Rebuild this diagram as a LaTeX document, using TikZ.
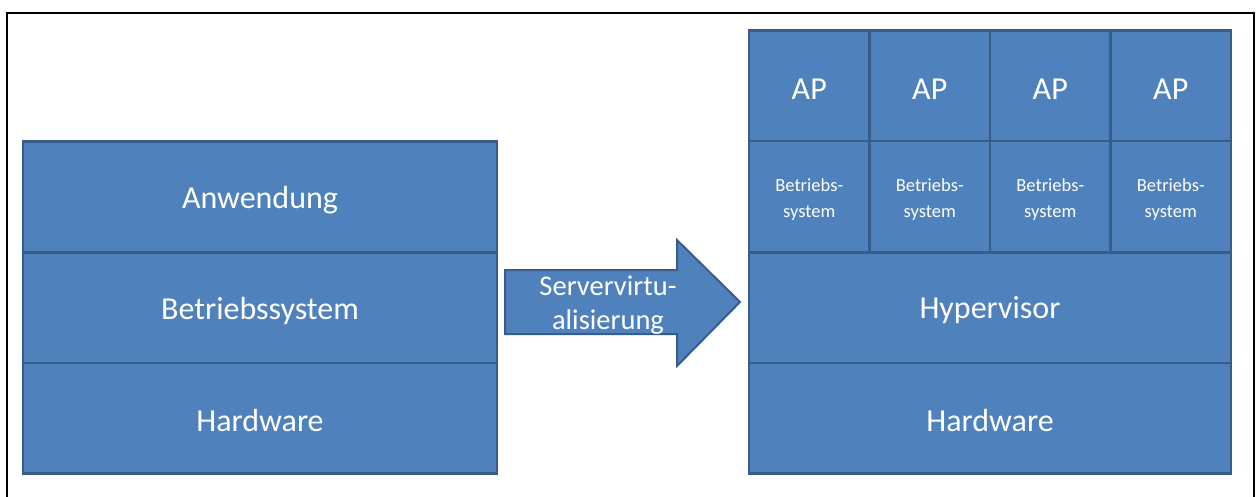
\documentclass[tikz,border=0pt]{standalone}
\usepackage{fontspec}
\setmainfont{Carlito}
\definecolor{boxfill}{HTML}{4F81BD}
\definecolor{boxline}{HTML}{385D8A}
\begin{document}
\begin{tikzpicture}[x=1pt,y=-1pt,
  layer/.style={draw=boxline, fill=boxfill, line width=2.5pt, inner sep=0pt, outer sep=0pt},
  wide/.style={layer, minimum width=474pt, minimum height=110.5pt},
  rwide/.style={layer, minimum width=482pt, minimum height=110.5pt},
  cell/.style={layer, minimum width=120.5pt, minimum height=110.5pt},
  bigtext/.style={text=white, align=center, inner sep=0pt, font=\fontsize{32}{38}\selectfont},
  smalltext/.style={text=white, align=center, inner sep=0pt, font=\fontsize{18.5}{26}\selectfont},
  arrowtext/.style={text=white, align=center, inner sep=0pt, font=\fontsize{28.5}{34}\selectfont}]
\useasboundingbox (0,0) rectangle (1257,497);

% outer frame (open at the bottom)
\draw[line width=2pt] (7,497) -- (7,13) -- (1254,13) -- (1254,497);

% classic stack
\node[wide] (app) at (260,197) {};
\node[wide] (os)  at (260,307.5) {};
\node[wide] (hw)  at (260,418) {};
\node[bigtext] at ([yshift=-3pt]app.center) {Anwendung};
\node[bigtext] at ([yshift=-3pt]os.center) {Betriebssystem};
\node[bigtext] at ([yshift=-3pt]hw.center) {Hardware};

% transition arrow
\draw[draw=boxline, fill=boxfill, line width=2pt, line join=miter]
  (505,270) -- (677,270) -- (677,240) -- (740,302) -- (677,366) -- (677,334) -- (505,334) -- cycle;
\node[arrowtext] (virt) at (608,305) {Servervirtu-\\alisierung};

% virtualised stack
\foreach \i/\cx in {1/809.25, 2/929.75, 3/1050.25, 4/1170.75} {
  \node[cell] (ap\i) at (\cx,86) {};
  \node[cell] (vm\i) at (\cx,196.5) {};
  \node[bigtext] at ([yshift=-3pt]ap\i.center) {AP};
  \node[smalltext] at ([yshift=-3pt]vm\i.center) {Betriebs-\\system};
}
\node[rwide] (hyp) at (990,307.5) {};
\node[rwide] (rhw) at (990,418) {};
\node[bigtext] at ([yshift=-3pt]hyp.center) {Hypervisor};
\node[bigtext] at ([yshift=-3pt]rhw.center) {Hardware};
\end{tikzpicture}
\end{document}
